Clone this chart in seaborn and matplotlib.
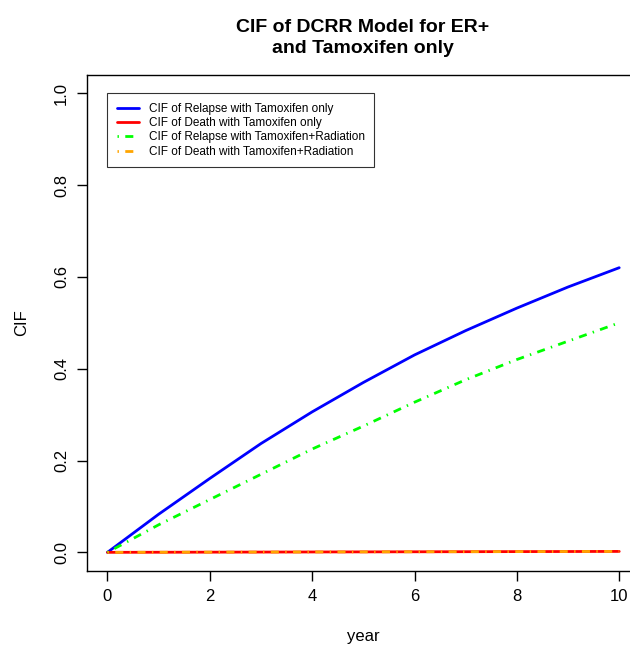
import matplotlib
matplotlib.use("Agg")
import matplotlib.pyplot as plt
import seaborn as sns
import pandas as pd

years = [0, 1, 2, 3, 4, 5, 6, 7, 8, 9, 10]
relapse_tam = [0, 0.083, 0.161, 0.237, 0.306, 0.370, 0.430, 0.483, 0.532, 0.578, 0.620]
death_tam = [0, 0.0002, 0.0004, 0.0006, 0.0008, 0.0010, 0.0012, 0.0014, 0.0016, 0.0018, 0.0020]
relapse_tamrad = [0, 0.060, 0.115, 0.170, 0.225, 0.275, 0.327, 0.376, 0.420, 0.460, 0.500]
death_tamrad = [0, 0.0002, 0.0004, 0.0006, 0.0008, 0.0010, 0.0012, 0.0014, 0.0016, 0.0018, 0.0020]

labels = ["CIF of Relapse with Tamoxifen only",
          "CIF of Death with Tamoxifen only",
          "CIF of Relapse with Tamoxifen+Radiation",
          "CIF of Death with Tamoxifen+Radiation"]
colors = ["#0000FF", "#FF0000", "#00FF00", "#FFA500"]
x_ticks = [0, 2, 4, 6, 8, 10]
y_ticks = [0.0, 0.2, 0.4, 0.6, 0.8, 1.0]
y_ticklabels = ["0.0", "0.2", "0.4", "0.6", "0.8", "1.0"]

sns.set_theme(style="ticks")
plt.rcParams['font.family'] = ['Liberation Sans', 'DejaVu Sans']
plt.rcParams['text.color'] = 'black'
plt.rcParams['axes.labelcolor'] = 'black'

fig = plt.figure(figsize=(6.3, 6.48), dpi=100)
ax = fig.add_axes([87 / 630, 1 - 570.7 / 648, (639.7 - 87) / 630, (570.7 - 74.9) / 648])

series = [relapse_tam, death_tam, relapse_tamrad, death_tamrad]
dash_pat = [None, None, (0.5, 2.3, 2.9, 2.3), (0.5, 2.3, 2.9, 2.3)]
for vals, lab, col, d in zip(series, labels, colors, dash_pat):
    df = pd.DataFrame({"year": years, "CIF": vals})
    kw = {}
    if d is not None:
        kw["dashes"] = d
    sns.lineplot(data=df, x="year", y="CIF", ax=ax, color=col, linewidth=2,
                 label=lab, **kw)

ax.set_xlim(-0.4, 10.4)
ax.set_ylim(-0.04, 1.04)
ax.set_xticks(x_ticks)
ax.set_xticklabels([str(t) for t in x_ticks])
ax.set_yticks(y_ticks)
ax.set_yticklabels(y_ticklabels, rotation=90, va="center")
ax.tick_params(axis="both", direction="out", length=7, width=1, colors="black",
               labelsize=12, pad=6)
for s in ax.spines.values():
    s.set_color("black")
    s.set_linewidth(1)

ax.set_xlabel("year", fontsize=12, labelpad=18, color="black")
ax.set_ylabel("CIF", fontsize=12, labelpad=18, color="black")
fig.text(363 / 630, 1 - 38 / 648, "CIF of DCRR Model for ER+\nand Tamoxifen only",
         ha="center", va="center", fontsize=14, fontweight="bold", linespacing=1.35,
         color="black")

leg = ax.legend(loc="upper left", bbox_to_anchor=(0, 1.0), bbox_transform=ax.transData,
                fontsize=8.5, frameon=True, fancybox=False, borderaxespad=0,
                handlelength=1.9, handletextpad=0.8, labelspacing=0.2,
                borderpad=0.8)
leg.get_frame().set_edgecolor("black")
leg.get_frame().set_linewidth(0.8)
for t in leg.get_texts():
    t.set_color("black")

fig.savefig("out.png", dpi=100)
